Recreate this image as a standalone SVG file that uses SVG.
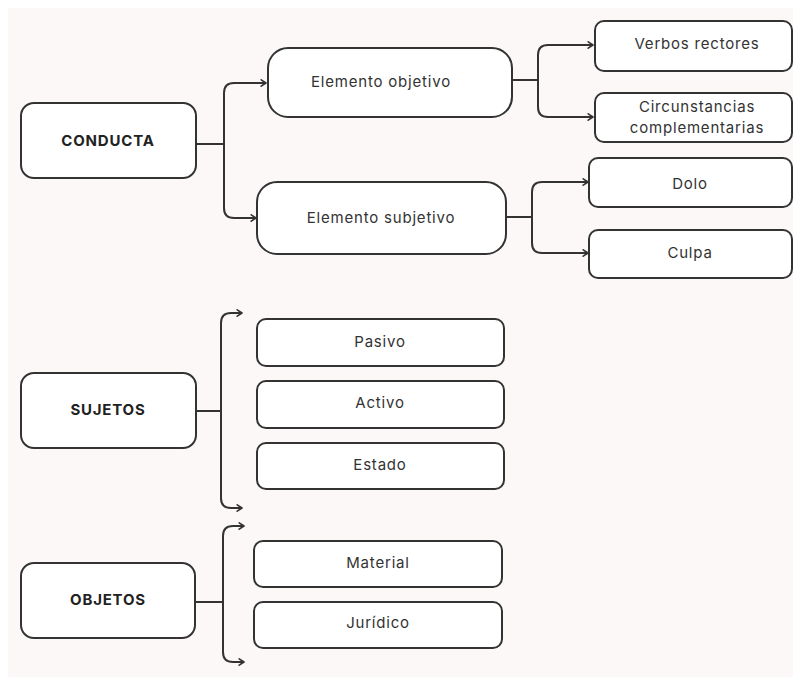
<svg xmlns="http://www.w3.org/2000/svg" width="793" height="677" viewBox="0 0 793 677">
<defs>
<marker id="arr" viewBox="0 0 10 10" refX="8" refY="5" markerWidth="8" markerHeight="8" markerUnits="userSpaceOnUse" orient="auto">
<path d="M2,1 L8,5 L2,9" fill="none" stroke="#333" stroke-width="2" stroke-linecap="round" stroke-linejoin="round"/>
</marker>
<style>
.box{fill:#fff;stroke:#333;stroke-width:2}
.c{fill:none;stroke:#333;stroke-width:2}
.t{font-family:Inter,"Liberation Sans",sans-serif;font-size:15px;fill:#333;text-anchor:middle;letter-spacing:0.8px}
.b{font-family:Inter,"Liberation Sans",sans-serif;font-size:15px;font-weight:bold;fill:#222;text-anchor:middle;letter-spacing:0.8px}
</style>
</defs>
<rect x="0" y="0" width="793" height="677" fill="#ffffff"/>
<rect x="8" y="8" width="785" height="669" fill="#fcf8f7"/>
<g id="connectors">
<path class="c" d="M196,144 H224"/>
<path class="c" d="M224,144 V93 Q224,83 234,83 H266" marker-end="url(#arr)"/>
<path class="c" d="M224,144 V208 Q224,218 234,218 H256" marker-end="url(#arr)"/>
<path class="c" d="M512,80 H538"/>
<path class="c" d="M538,80 V55 Q538,45 548,45 H593" marker-end="url(#arr)"/>
<path class="c" d="M538,80 V107 Q538,117 548,117 H593" marker-end="url(#arr)"/>
<path class="c" d="M506,217 H532"/>
<path class="c" d="M532,217 V192 Q532,182 542,182 H588" marker-end="url(#arr)"/>
<path class="c" d="M532,217 V243 Q532,253 542,253 H588" marker-end="url(#arr)"/>
<path class="c" d="M196,411 H221"/>
<path class="c" d="M221,411 V323 Q221,313 231,313 H242" marker-end="url(#arr)"/>
<path class="c" d="M221,411 V498 Q221,508 231,508 H242" marker-end="url(#arr)"/>
<path class="c" d="M196,602 H223"/>
<path class="c" d="M223,602 V536 Q223,526 233,526 H244" marker-end="url(#arr)"/>
<path class="c" d="M223,602 V652 Q223,662 233,662 H244" marker-end="url(#arr)"/>
</g>
<g id="conducta"><rect class="box" x="21" y="103" width="175" height="75" rx="13"/><text class="b" x="108" y="146">CONDUCTA</text></g>
<g id="elemento-objetivo"><rect class="box" x="268" y="48" width="244" height="69" rx="20"/><text class="t" x="381" y="87">Elemento objetivo</text></g>
<g id="elemento-subjetivo"><rect class="box" x="257" y="182" width="249" height="72" rx="20"/><text class="t" x="381" y="223">Elemento subjetivo</text></g>
<g id="verbos"><rect class="box" x="595" y="21" width="197" height="50" rx="9"/><text class="t" x="697" y="49">Verbos rectores</text></g>
<g id="circunstancias"><rect class="box" x="595" y="93" width="197" height="49" rx="9"/><text class="t" x="697" y="112">Circunstancias</text><text class="t" x="697" y="133">complementarias</text></g>
<g id="dolo"><rect class="box" x="589" y="158" width="203" height="49" rx="9"/><text class="t" x="690" y="189">Dolo</text></g>
<g id="culpa"><rect class="box" x="589" y="230" width="203" height="48" rx="9"/><text class="t" x="690" y="258">Culpa</text></g>
<g id="sujetos"><rect class="box" x="21" y="373" width="175" height="75" rx="13"/><text class="b" x="108" y="415">SUJETOS</text></g>
<g id="pasivo"><rect class="box" x="257" y="319" width="247" height="47" rx="9"/><text class="t" x="380" y="347">Pasivo</text></g>
<g id="activo"><rect class="box" x="257" y="381" width="247" height="47" rx="9"/><text class="t" x="380" y="408">Activo</text></g>
<g id="estado"><rect class="box" x="257" y="443" width="247" height="46" rx="9"/><text class="t" x="380" y="470">Estado</text></g>
<g id="objetos"><rect class="box" x="21" y="563" width="174" height="75" rx="13"/><text class="b" x="108" y="605">OBJETOS</text></g>
<g id="material"><rect class="box" x="254" y="541" width="248" height="46" rx="9"/><text class="t" x="378" y="568">Material</text></g>
<g id="juridico"><rect class="box" x="254" y="602" width="248" height="46" rx="9"/><text class="t" x="378" y="628">Jurídico</text></g>
</svg>
